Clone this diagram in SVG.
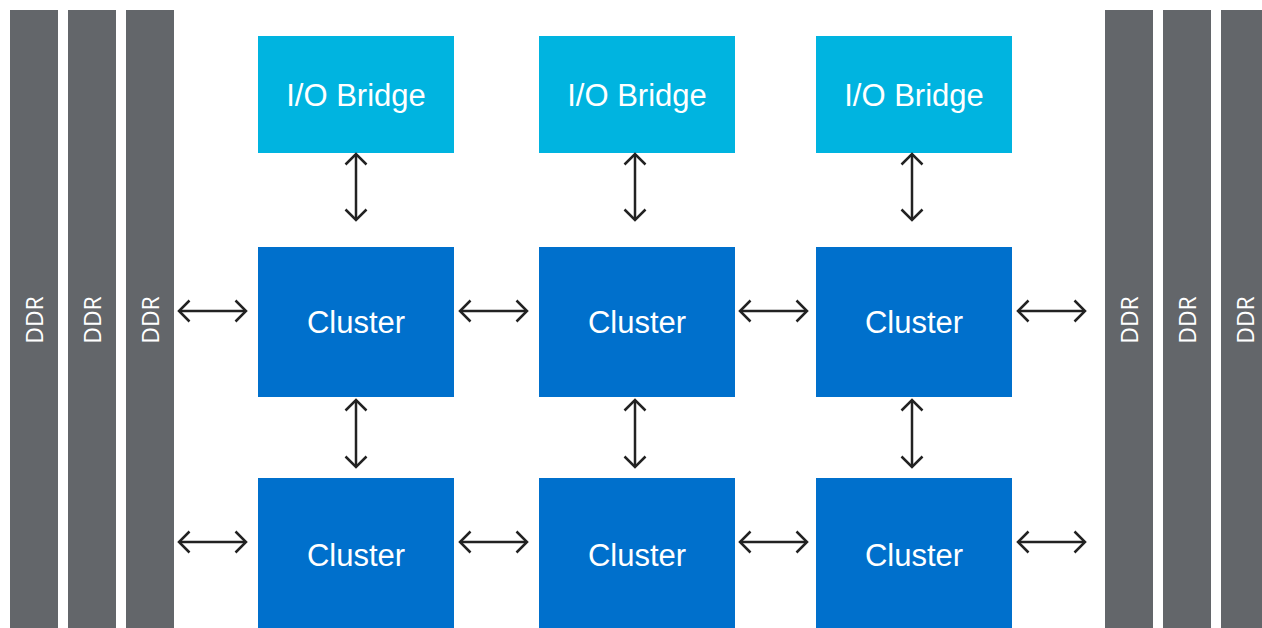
<svg xmlns="http://www.w3.org/2000/svg" width="1262" height="628" viewBox="0 0 1262 628">
  <defs>
    <style>
      .ddr { fill: #63666a; }
      .ddr-t { fill: #ffffff; font-family: "Open Sans", "DejaVu Sans", sans-serif; font-size: 23px; text-anchor: middle; dominant-baseline: central; }
      .iob { fill: #00b4e0; }
      .clu { fill: #0070cc; }
      .lbl { fill: #ffffff; font-family: "Liberation Sans", Arial, sans-serif; font-size: 31px; text-anchor: middle; }
      .link { stroke: #222222; stroke-width: 2.5; fill: none; marker-start: url(#head); marker-end: url(#head); }
    </style>
    <marker id="head" viewBox="0 0 14 24" refX="12" refY="12" markerWidth="14" markerHeight="24" markerUnits="userSpaceOnUse" orient="auto-start-reverse">
      <path d="M1.5,1.5 L12,12 L1.5,22.5" fill="none" stroke="#222222" stroke-width="2.5" stroke-linejoin="miter"/>
    </marker>
  </defs>
  <rect width="1262" height="628" fill="#ffffff"/>

  <!-- memory channels, left -->
  <g id="ddr-l1"><rect class="ddr" x="10" y="10" width="48" height="630"/><text class="ddr-t" transform="translate(34,320) rotate(-90)">DDR</text></g>
  <g id="ddr-l2"><rect class="ddr" x="68" y="10" width="48" height="630"/><text class="ddr-t" transform="translate(92,320) rotate(-90)">DDR</text></g>
  <g id="ddr-l3"><rect class="ddr" x="126" y="10" width="48" height="630"/><text class="ddr-t" transform="translate(150,320) rotate(-90)">DDR</text></g>
  <!-- memory channels, right -->
  <g id="ddr-r1"><rect class="ddr" x="1105" y="10" width="48" height="630"/><text class="ddr-t" transform="translate(1129,320) rotate(-90)">DDR</text></g>
  <g id="ddr-r2"><rect class="ddr" x="1163" y="10" width="48" height="630"/><text class="ddr-t" transform="translate(1187,320) rotate(-90)">DDR</text></g>
  <g id="ddr-r3"><rect class="ddr" x="1221" y="10" width="48" height="630"/><text class="ddr-t" transform="translate(1245,320) rotate(-90)">DDR</text></g>

  <!-- I/O bridges -->
  <g id="iob-1"><rect class="iob" x="258" y="36" width="196" height="117"/><text class="lbl" x="356" y="106">I/O Bridge</text></g>
  <g id="iob-2"><rect class="iob" x="539" y="36" width="196" height="117"/><text class="lbl" x="637" y="106">I/O Bridge</text></g>
  <g id="iob-3"><rect class="iob" x="816" y="36" width="196" height="117"/><text class="lbl" x="914" y="106">I/O Bridge</text></g>

  <!-- cluster mesh -->
  <g id="clu-1-1"><rect class="clu" x="258" y="247" width="196" height="150"/><text class="lbl" x="356" y="333">Cluster</text></g>
  <g id="clu-1-2"><rect class="clu" x="539" y="247" width="196" height="150"/><text class="lbl" x="637" y="333">Cluster</text></g>
  <g id="clu-1-3"><rect class="clu" x="816" y="247" width="196" height="150"/><text class="lbl" x="914" y="333">Cluster</text></g>
  <g id="clu-2-1"><rect class="clu" x="258" y="478" width="196" height="160"/><text class="lbl" x="356" y="566">Cluster</text></g>
  <g id="clu-2-2"><rect class="clu" x="539" y="478" width="196" height="160"/><text class="lbl" x="637" y="566">Cluster</text></g>
  <g id="clu-2-3"><rect class="clu" x="816" y="478" width="196" height="160"/><text class="lbl" x="914" y="566">Cluster</text></g>

  <!-- links -->
  <g id="links">
    <line class="link" x1="356" y1="154" x2="356" y2="220"/>
    <line class="link" x1="635" y1="154" x2="635" y2="220"/>
    <line class="link" x1="912" y1="154" x2="912" y2="220"/>
    <line class="link" x1="356" y1="400" x2="356" y2="467"/>
    <line class="link" x1="635" y1="400" x2="635" y2="467"/>
    <line class="link" x1="912" y1="400" x2="912" y2="467"/>
    <line class="link" x1="179" y1="311" x2="246" y2="311"/>
    <line class="link" x1="460" y1="311" x2="527" y2="311"/>
    <line class="link" x1="740" y1="311" x2="807" y2="311"/>
    <line class="link" x1="1018" y1="311" x2="1085" y2="311"/>
    <line class="link" x1="179" y1="542" x2="246" y2="542"/>
    <line class="link" x1="460" y1="542" x2="527" y2="542"/>
    <line class="link" x1="740" y1="542" x2="807" y2="542"/>
    <line class="link" x1="1018" y1="542" x2="1085" y2="542"/>
  </g>
</svg>
